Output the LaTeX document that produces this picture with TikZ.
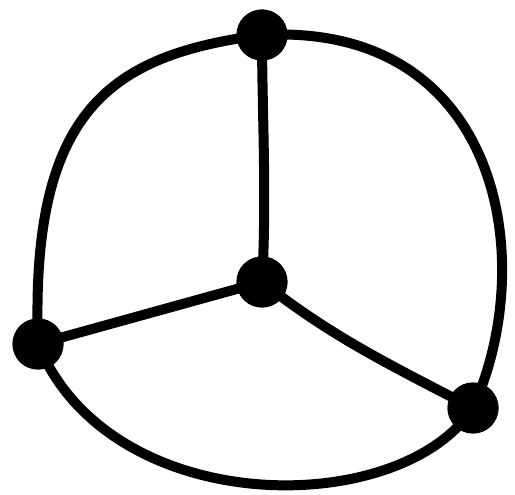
\documentclass[tikz,border=0pt]{standalone}
\begin{document}
\begin{tikzpicture}[x=1pt,y=-1pt,
  vert/.style={circle,fill=black,minimum size=51pt,inner sep=0pt},
  edge/.style={line width=10pt,line cap=round}]
\useasboundingbox (0,0) rectangle (515,495);
\node[vert] (t) at (262,35) {};
\node[vert] (c) at (262,282) {};
\node[vert] (l) at (38,344) {};
\node[vert] (r) at (473,408) {};
\draw[edge] (t.center) .. controls (110,55) and (30,110) .. (l.center);
\draw[edge] (t.center) .. controls (500,22) and (540,260) .. (r.center);
\draw[edge] (l.center) .. controls (110,520) and (400,520) .. (r.center);
\draw[edge] (c.center) .. controls (267,200) and (262,110) .. (t.center);
\draw[edge] (c.center) -- (l.center);
\draw[edge] (c.center) .. controls (330,335) and (380,360) .. (r.center);
\node[vert] at (t) {};
\node[vert] at (c) {};
\node[vert] at (l) {};
\node[vert] at (r) {};
\end{tikzpicture}
\end{document}
